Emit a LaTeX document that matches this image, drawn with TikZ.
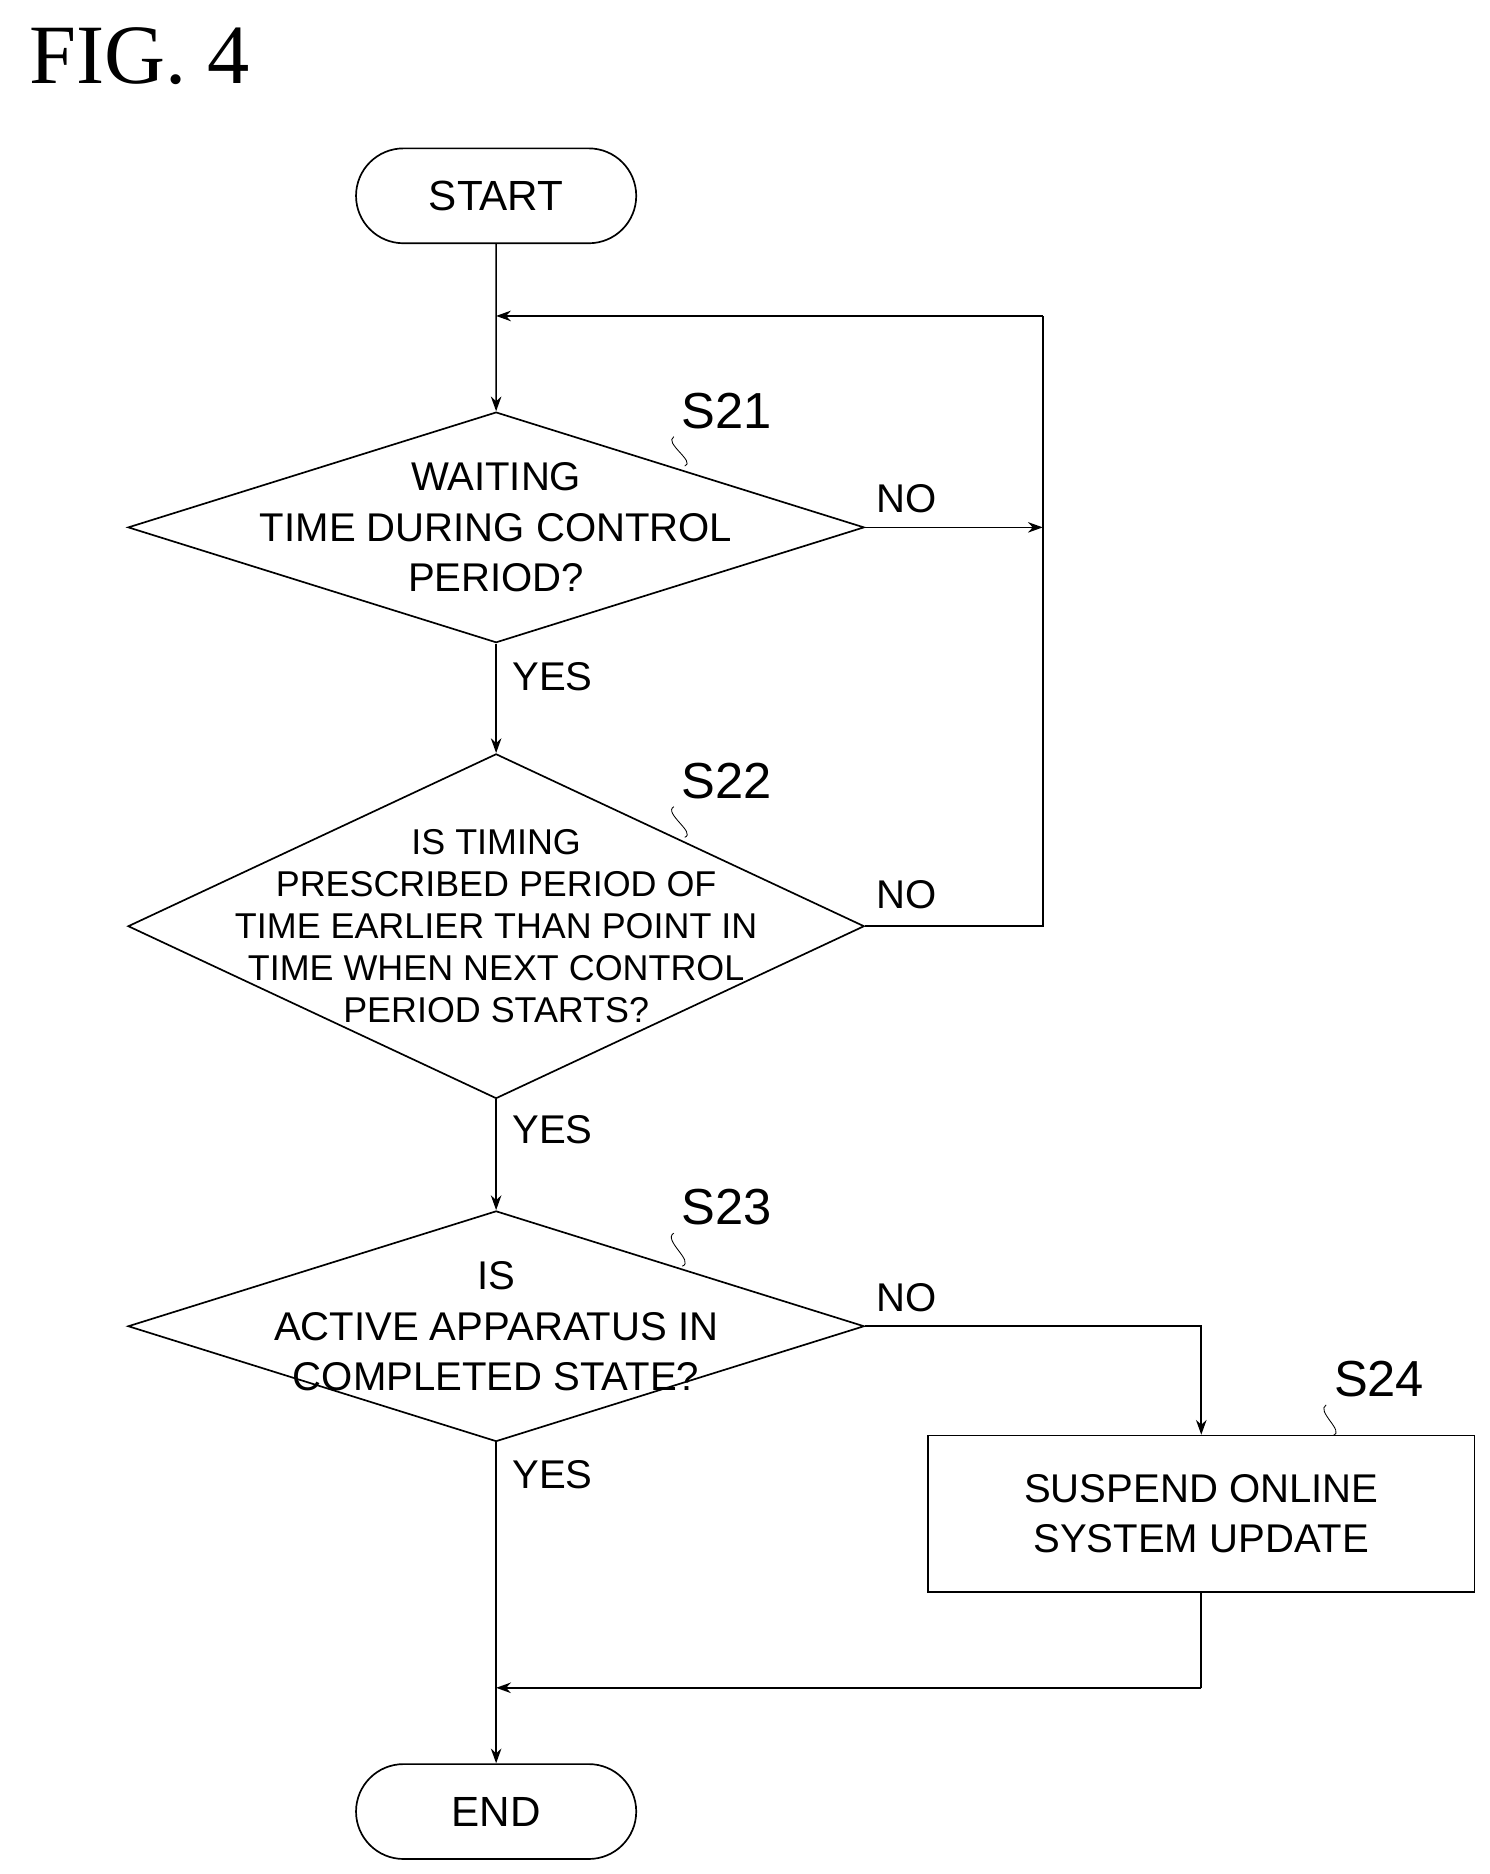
\documentclass[tikz,border=0pt]{standalone}
\usepackage{fontspec}
\setmainfont{Liberation Sans}
\newfontfamily\figfont{Liberation Serif}
\usetikzlibrary{shapes.geometric,shapes.misc,arrows.meta,positioning,calc}

\begin{document}
\begin{tikzpicture}[x=0.02cm,y=-0.02cm,thick,
                    >={Stealth[length=7pt,width=5pt]},
                    term/.style={rounded rectangle,draw,minimum width=4.9cm,minimum height=1.58cm,font=\fontsize{20}{24}\selectfont},
                    dec/.style={diamond,draw,minimum width=12.26cm,inner sep=0pt},
                    txt/.style={align=center,font=\fontsize{19}{24}\selectfont},
                    proc/.style={rectangle,draw,minimum width=9.1cm,minimum height=2.6cm,align=center,font=\fontsize{19}{24}\selectfont},
                    steplab/.style={font=\fontsize{24}{28}\selectfont},
                    lab/.style={font=\fontsize{19}{24}\selectfont}]

  \useasboundingbox (0,0) rectangle (1240,1560);

  \node[font=\figfont\fontsize{40}{44}\selectfont,anchor=west] (fig) at (18,47) {FIG.\ 4};

  \node[term] (start) at (413,163) {START};
  \node[dec,minimum height=3.84cm] (s21) at (413,439) {};
  \node[txt] (t21) at (413,439) {WAITING\\TIME DURING CONTROL\\PERIOD?};
  \node[dec,minimum height=5.74cm] (s22) at (413,771) {};
  \node[txt,font=\fontsize{17}{20}\selectfont] (t22) at (413,771) {IS TIMING\\PRESCRIBED PERIOD OF\\TIME EARLIER THAN POINT IN\\TIME WHEN NEXT CONTROL\\PERIOD STARTS?};
  \node[dec,minimum height=3.84cm] (s23) at (413,1104) {};
  \node[txt] (t23) at (413,1104) {IS\\ACTIVE APPARATUS IN\\COMPLETED STATE?};
  \node[proc] (s24) at (1000,1260) {SUSPEND ONLINE\\SYSTEM UPDATE};
  \node[term] (end) at (413,1508) {END};

  % step labels
  \node[steplab] (l21) at (605,342) {S21};
  \node[steplab] (l22) at (605,650) {S22};
  \node[steplab] (l23) at (605,1005) {S23};
  \node[steplab] (l24) at (1148,1148) {S24};
  \draw[thin] (l21.south west) to[out=-150,in=20] (570,388);
  \draw[thin] (l22.south west) to[out=-150,in=20] (570,697);
  \draw[thin] (l23.south west) to[out=-150,in=20] (568,1054);
  \draw[thin] (l24.south west) to[out=-150,in=20] (1110,1195);

  % junctions
  \coordinate (j1) at (413,263);
  \coordinate (r1) at (868,263);
  \coordinate (r2) at (868,439);
  \coordinate (r3) at (868,771);
  \coordinate (c1) at (1000,1104);
  \coordinate (j2) at (413,1405);
  \coordinate (c2) at (1000,1405);

  \draw[->] (start) -- (s21.north);
  \draw[->] (r1) -- (j1);
  \draw[->] (s21.east) -- (r2);
  \draw (s22.east) -- (r3) -- (r1);
  \draw[->] (s21.south) -- (s22.north);
  \draw[->] (s22.south) -- (s23.north);
  \draw[->] (s23.east) -- (c1) -- (s24.north);
  \draw (s24.south) -- (c2);
  \draw[->] (c2) -- (j2);
  \draw[->] (s23.south) -- (end.north);

  \node[lab] (no1) at (755,415) {NO};
  \node[lab] (no2) at (755,745) {NO};
  \node[lab] (no3) at (755,1080) {NO};
  \node[lab] (yes1) at (460,563) {YES};
  \node[lab] (yes2) at (460,940) {YES};
  \node[lab] (yes3) at (460,1228) {YES};
\end{tikzpicture}
\end{document}
